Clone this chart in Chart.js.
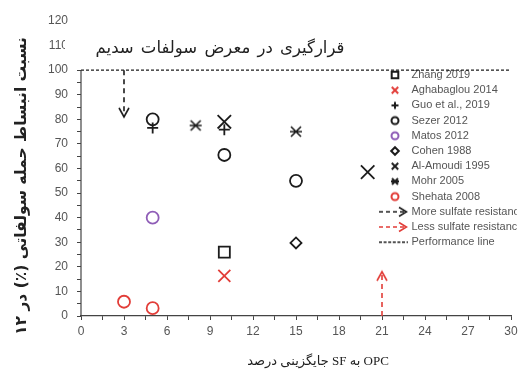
<!DOCTYPE html>
<html>
<head>
<meta charset="utf-8">
<script src="https://cdn.jsdelivr.net/npm/chart.js@4.4.1/dist/chart.umd.min.js"></script>
<style>
    html, body { margin: 0; padding: 0; background: #fff; }
</style>
</head>
<body>
<canvas id="sulfateChart" width="518" height="378"></canvas>
<script>
// Data: x = SF replacement (%), y = expansion ratio (%)
const zhang2019 = [[10, 26]];
const aghabaglou2014 = [[10, 16.3]];
const guo2019 = [[5, 76.5], [10, 75.8]];
const sezer2012 = [[5, 80], [10, 65.5], [15, 55]];
const matos2012 = [[5, 40]];
const cohen1988 = [[15, 29.7]];
const alAmoudi1995 = [[10, 79], [20, 58.5]];
const mohr2005 = [[8, 77.5], [15, 75]];
const shehata2008 = [[3, 5.8], [5, 3.2]];
const moreResistant = [[3, 100], [3, 81]];
const lessResistant = [[21, 0], [21, 18]];
const performance = [[0, 100], [30, 100]];

const xTickLabels = [0, 3, 6, 9, 12, 15, 18, 21, 24, 27, 30];
const yTickLabels = [0, 10, 20, 30, 40, 50, 60, 70, 80, 90, 100, 110, 120];

const chartTitle = 'قرارگیری در معرض سولفات سدیم';
const yTitle = 'نسبت انبساط حمله سولفاتی (٪) در ۱۲';
// x title words, in the order they appear from left to right
const xTitleWords = ['درصد', 'جایگزینی', 'SF', 'به', 'OPC'];

const BLACK = '#1c1c1c';
const RED = '#e23d38';
const PURPLE = '#8f5db7';

const toXY = arr => arr.map(p => ({ x: p[0], y: p[1] }));

// small canvases used as point styles / legend icons
function makeIcon(w, h, draw) {
    const c = document.createElement('canvas');
    c.width = w;
    c.height = h;
    const g = c.getContext('2d');
    draw(g);
    return c;
}

function drawSymbol(g, kind, cx, cy, r, color, lw) {
    g.strokeStyle = color;
    g.lineWidth = lw;
    g.beginPath();
    if (kind === 'circle') {
        g.arc(cx, cy, r, 0, Math.PI * 2);
    } else if (kind === 'square') {
        g.rect(cx - r, cy - r, 2 * r, 2 * r);
    } else if (kind === 'plus') {
        g.moveTo(cx - r, cy); g.lineTo(cx + r, cy);
        g.moveTo(cx, cy - r); g.lineTo(cx, cy + r);
    } else if (kind === 'x') {
        g.moveTo(cx - r, cy - r); g.lineTo(cx + r, cy + r);
        g.moveTo(cx + r, cy - r); g.lineTo(cx - r, cy + r);
    } else if (kind === 'diamond') {
        g.moveTo(cx, cy - r); g.lineTo(cx + r, cy);
        g.lineTo(cx, cy + r); g.lineTo(cx - r, cy);
        g.closePath();
    } else if (kind === 'mohr') {
        g.moveTo(cx - r, cy - r); g.lineTo(cx + r, cy + r);
        g.moveTo(cx + r, cy - r); g.lineTo(cx - r, cy + r);
        g.moveTo(cx - r - 1, cy); g.lineTo(cx + r + 1, cy);
    }
    g.stroke();
}

const symbolIcon = (kind, color, r) => makeIcon(25, 12, g => drawSymbol(g, kind, 14, 6, r, color, 2));

function arrowIcon(color) {
    return makeIcon(29, 12, g => {
        g.strokeStyle = color;
        g.lineWidth = 1.6;
        g.setLineDash([4, 3]);
        g.beginPath();
        g.moveTo(0, 6); g.lineTo(26, 6);
        g.stroke();
        g.setLineDash([]);
        g.beginPath();
        g.moveTo(20, 1.5); g.lineTo(27.5, 6); g.lineTo(20, 10.5);
        g.stroke();
    });
}

const dashIcon = makeIcon(29, 12, g => {
    g.strokeStyle = BLACK;
    g.lineWidth = 1.3;
    g.setLineDash([3, 1.6]);
    g.beginPath();
    g.moveTo(0, 6); g.lineTo(29, 6);
    g.stroke();
});

function chevron(color, down) {
    return makeIcon(16, 24, g => {
        g.strokeStyle = color;
        g.lineWidth = 1.6;
        g.beginPath();
        const back = down ? 3 : 21;
        g.moveTo(3, back); g.lineTo(8, 12); g.lineTo(13, back);
        g.stroke();
    });
}

const mohrPoint = makeIcon(18, 18, g => drawSymbol(g, 'mohr', 9, 9, 5, BLACK, 1.6));

function symbolSet(label, data, style, radius, color, icon) {
    return {
        label: label,
        data: toXY(data),
        showLine: false,
        pointStyle: style,
        pointRadius: radius,
        pointHoverRadius: radius,
        pointBorderWidth: 1.8,
        borderColor: color,
        backgroundColor: 'transparent',
        legendIcon: icon
    };
}

const datasets = [
    symbolSet('Zhang 2019', zhang2019, 'rect', 7.8, BLACK, symbolIcon('square', BLACK, 3.3)),
    symbolSet('Aghabaglou 2014', aghabaglou2014, 'crossRot', 8.5, RED, symbolIcon('x', RED, 3.2)),
    symbolSet('Guo et al., 2019', guo2019, 'cross', 5.5, BLACK, symbolIcon('plus', BLACK, 3.5)),
    symbolSet('Sezer 2012', sezer2012, 'circle', 6, BLACK, symbolIcon('circle', BLACK, 3.5)),
    symbolSet('Matos 2012', matos2012, 'circle', 6, PURPLE, symbolIcon('circle', PURPLE, 3.5)),
    symbolSet('Cohen 1988', cohen1988, 'rectRot', 5.5, BLACK, symbolIcon('diamond', BLACK, 3.8)),
    symbolSet('Al-Amoudi 1995', alAmoudi1995, 'crossRot', 9.5, BLACK, symbolIcon('x', BLACK, 3.2)),
    symbolSet('Mohr 2005', mohr2005, mohrPoint, 6, BLACK, symbolIcon('mohr', BLACK, 3)),
    symbolSet('Shehata 2008', shehata2008, 'circle', 6, RED, symbolIcon('circle', RED, 3.5)),
    {
        label: 'More sulfate resistance',
        data: toXY(moreResistant),
        showLine: true,
        borderColor: BLACK,
        borderWidth: 1.6,
        borderDash: [5, 4],
        pointStyle: chevron(BLACK, true),
        pointRadius: [0, 6],
        legendIcon: arrowIcon(BLACK)
    },
    {
        label: 'Less sulfate resistance',
        data: toXY(lessResistant),
        showLine: true,
        borderColor: RED,
        borderWidth: 1.6,
        borderDash: [5, 4],
        pointStyle: chevron(RED, false),
        pointRadius: [0, 6],
        legendIcon: arrowIcon(RED)
    },
    {
        label: 'Performance line',
        data: toXY(performance),
        showLine: true,
        borderColor: BLACK,
        borderWidth: 1.4,
        borderDash: [3, 2],
        pointRadius: 0,
        legendIcon: dashIcon
    }
];

// legend inside the plot, titles and the short y axis line
const decorPlugin = {
    id: 'decor',
    afterLayout(chart) {
        const lg = chart.legend;
        const pad = lg.options.labels.padding;
        lg.left = 381 - pad;
        lg.top = 69.5 - pad;
        lg.right = lg.left + 140;
        lg.bottom = lg.top + 260;
    },
    beforeDatasetsDraw(chart) {
        const { ctx, chartArea, scales: { y } } = chart;
        ctx.save();
        ctx.strokeStyle = '#444';
        ctx.lineWidth = 1.2;
        ctx.beginPath();
        ctx.moveTo(chartArea.left, y.getPixelForValue(0));
        ctx.lineTo(chartArea.left, y.getPixelForValue(100));
        ctx.stroke();
        ctx.restore();
    },
    afterDraw(chart) {
        const { ctx, scales: { y } } = chart;
        const titleY = y.getPixelForValue(108.8);
        ctx.save();

        // the title sits on a white box that clips the end of the "110" label
        ctx.fillStyle = '#fff';
        ctx.fillRect(65, titleY - 9, 295, 18);

        ctx.fillStyle = '#222';
        ctx.textBaseline = 'middle';
        ctx.textAlign = 'center';
        ctx.font = '16.5px "DejaVu Sans"';
        ctx.letterSpacing = '2px';
        ctx.fillText(chartTitle, 220, titleY);
        ctx.letterSpacing = '0px';

        ctx.save();
        ctx.translate(22, 186);
        ctx.rotate(-Math.PI / 2);
        ctx.font = 'bold 15.5px "DejaVu Sans"';
        ctx.fillText(yTitle, 0, 0);
        ctx.restore();

        // x title: words placed one after another, left to right
        ctx.font = '13px "Liberation Serif", "DejaVu Sans"';
        ctx.textAlign = 'left';
        const gap = ctx.measureText(' ').width;
        const widths = xTitleWords.map(w => ctx.measureText(w).width);
        const total = widths.reduce((a, b) => a + b, 0) + gap * (xTitleWords.length - 1);
        let cx = 318 - total / 2;
        xTitleWords.forEach((w, i) => {
            ctx.fillText(w, cx, 362);
            cx += widths[i] + gap;
        });
        ctx.restore();
    }
};

const tickFont = { family: 'Liberation Sans', size: 12 };

new Chart(document.getElementById('sulfateChart'), {
    type: 'scatter',
    data: { datasets: datasets },
    options: {
        responsive: false,
        animation: false,
        layout: { autoPadding: false, padding: { top: 21, right: 7, left: 0, bottom: 0 } },
        plugins: {
            tooltip: { enabled: false },
            legend: {
                position: 'chartArea',
                align: 'start',
                onClick: null,
                labels: {
                    usePointStyle: true,
                    pointStyleWidth: 25,
                    padding: 4.2,
                    color: '#555',
                    font: { family: 'Liberation Sans', size: 11 },
                    generateLabels: chart => chart.data.datasets.map((ds, i) => ({
                        text: ds.label,
                        pointStyle: ds.legendIcon,
                        fillStyle: 'transparent',
                        strokeStyle: 'transparent',
                        lineWidth: 0,
                        hidden: false,
                        datasetIndex: i,
                        fontColor: '#555'
                    }))
                }
            }
        },
        scales: {
            x: {
                type: 'linear',
                min: 0,
                max: 30,
                afterFit: s => { s.height = 62; s.paddingRight = 0; },
                ticks: {
                    stepSize: 1.5,
                    autoSkip: false,
                    maxRotation: 0,
                    padding: 4,
                    color: '#555',
                    font: tickFont,
                    callback: v => xTickLabels.includes(v) ? v : ''
                },
                grid: { drawOnChartArea: false, tickLength: 4, color: '#444' },
                border: { display: true, color: '#444', width: 1.2 }
            },
            y: {
                min: 0,
                max: 120,
                afterFit: s => { s.width = 81; },
                ticks: {
                    stepSize: 5,
                    autoSkip: false,
                    padding: 9,
                    color: '#555',
                    font: tickFont,
                    callback: v => yTickLabels.includes(v) ? v : ''
                },
                grid: {
                    drawOnChartArea: false,
                    tickLength: 4,
                    color: c => (c.tick && c.tick.value > 100) ? 'rgba(0,0,0,0)' : '#444'
                },
                border: { display: false }
            }
        }
    },
    plugins: [decorPlugin]
});
</script>
</body>
</html>
